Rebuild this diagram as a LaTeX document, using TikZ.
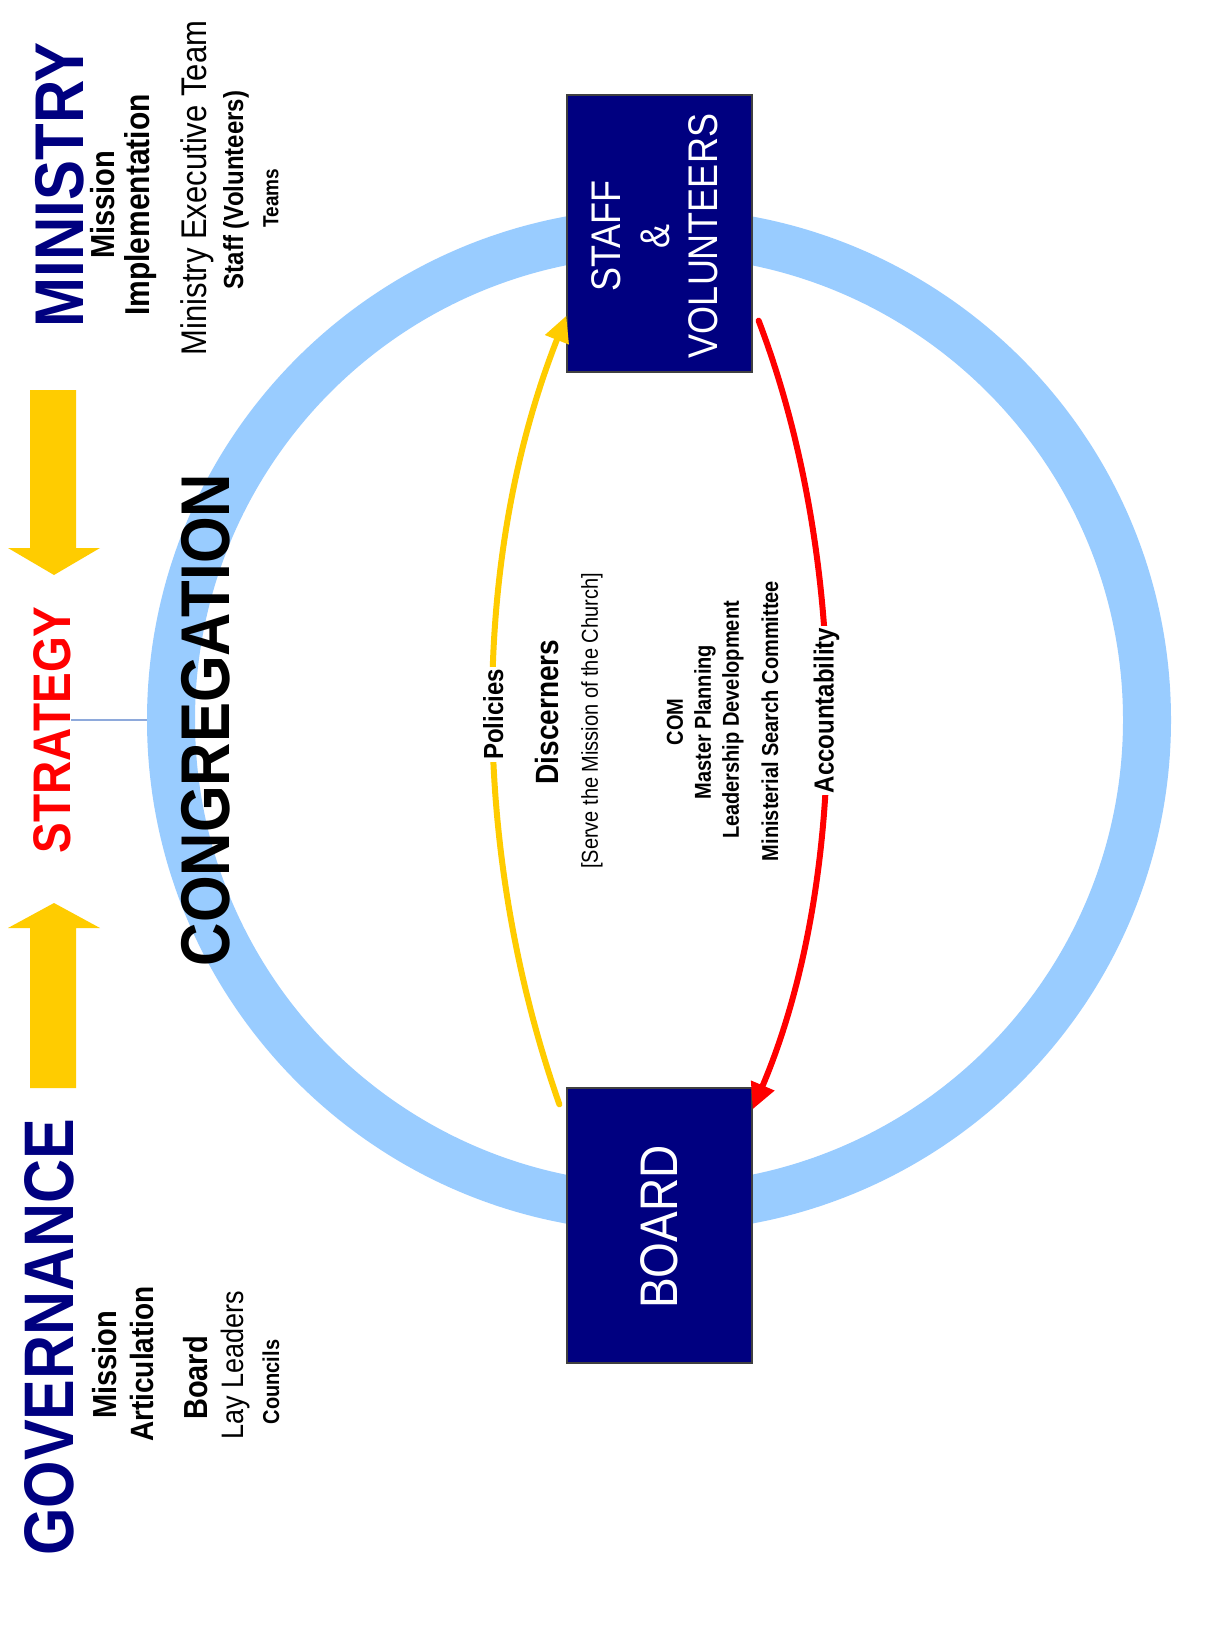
\documentclass[tikz,border=0pt]{standalone}
\usepackage{fontspec}
\setmainfont{Liberation Sans}
\usetikzlibrary{arrows.meta,calc}
\definecolor{navy}{HTML}{000080}
\definecolor{gold}{HTML}{FFCC00}
\definecolor{ringblue}{HTML}{99CCFF}
\definecolor{linkblue}{HTML}{8EA9DB}
\newcommand{\fs}[1]{\fontsize{#1}{#1}\selectfont}
\begin{document}
\begin{tikzpicture}[x=1pt,y=-1pt,
  txt/.style={rotate=90, yscale=1.15, inner sep=0pt, anchor=center},
  box/.style={draw=black!75, line width=1.2pt, fill=navy, minimum width=185pt, minimum height=277pt, inner sep=0pt},
  bigarrow/.style={fill=gold, draw=none},
  conn/.style={line width=6pt, line cap=round}
]
\fill[white] (0,0) rectangle (1225,1637);
\useasboundingbox (0,0) rectangle (1225,1637);

% ring
\node[circle, draw=ringblue, line width=48pt, minimum size=976pt, inner sep=0pt] (ring) at (659,720) {};

% boxes
\node[box] (staff) at (659.5,233.5) {};
\node[box, minimum height=275pt] (board) at (659.5,1225.5) {};
\node[txt, text=white, align=center, font=\fs{36}] (stafftxt) at (655,236) {STAFF\\[6pt]\&\\[6pt]VOLUNTEERS};
\node[txt, text=white, font=\fs{46}] (boardtxt) at (659,1227) {BOARD};

% left block arrows
\fill[bigarrow] (30,390) -- (76,390) -- (76,548) -- (100,548) -- (54,575) -- (8,548) -- (30,548) -- cycle;
\fill[bigarrow] (30,1088) -- (76,1088) -- (76,928) -- (100,928) -- (54,903) -- (8,928) -- (30,928) -- cycle;

% headings
\node[txt, text=navy, font=\bfseries\fs{60}] (ministry) at (60,185) {MINISTRY};
\node[txt, text=navy, font=\bfseries\fs{61}] (governance) at (49,1337) {GOVERNANCE};
\node[txt, text=red, font=\bfseries\fs{46}] (strategy) at (52,730) {STRATEGY};
\node[txt, font=\bfseries\fs{60}] (congregation) at (206,720) {CONGREGATION};

\draw[linkblue, line width=1.5pt] (strategy.south |- ring.west) -- (ring.west);

% ministry column
\node[txt, font=\bfseries\fs{29}] (mis1) at (103,205) {Mission};
\node[txt, font=\bfseries\fs{30}] (impl) at (141,205) {Implementation};
\node[txt, font=\fs{31}] (met) at (197,188) {Ministry Executive Team};
\node[txt, font=\bfseries\fs{24}] (stv) at (236,190) {Staff (Volunteers)};
\node[txt, font=\bfseries\fs{19}] (teams) at (271,198) {Teams};

% governance column
\node[txt, font=\bfseries\fs{29}] (mis2) at (105,1365) {Mission};
\node[txt, font=\bfseries\fs{28}] (artic) at (142,1364) {Articulation};
\node[txt, font=\bfseries\fs{29}] (brd) at (196,1378) {Board};
\node[txt, font=\fs{27}] (lay) at (235,1365) {Lay Leaders};
\node[txt, font=\bfseries\fs{20}] (councils) at (271,1382) {Councils};

% centre text
\node[txt, font=\bfseries\fs{28}] (disc) at (547,712) {Discerners};
\node[txt, font=\fs{20}] (serve) at (592,721) {[Serve the Mission of the Church]};
\node[txt, font=\bfseries\fs{20}] (com) at (675,722) {COM};
\node[txt, font=\bfseries\fs{20}] (mp) at (705,722) {Master Planning};
\node[txt, font=\bfseries\fs{20}] (ld) at (733,720) {Leadership Development};
\node[txt, font=\bfseries\fs{20}] (msc) at (770,721) {Ministerial Search Committee};

% connectors
\draw[conn, gold, -{Triangle[length=26pt,width=24pt]}]
  ($(board.north west)+(-7,17)$) .. controls (470,850) and (470,560) .. ($(staff.south west)+(0,-57)$)
  node[pos=0.49, txt, fill=white, inner sep=2pt, text=black, font=\bfseries\fs{24}] (pol) {Policies};
\draw[conn, red, -{Triangle[length=26pt,width=24pt]}]
  ($(staff.south east)+(6,-52)$) .. controls (850,560) and (850,880) .. ($(board.north east)+(0,22)$)
  node[pos=0.49, txt, fill=white, inner sep=2pt, text=black, font=\bfseries\fs{24}] (acc) {Accountability};
\end{tikzpicture}
\end{document}
